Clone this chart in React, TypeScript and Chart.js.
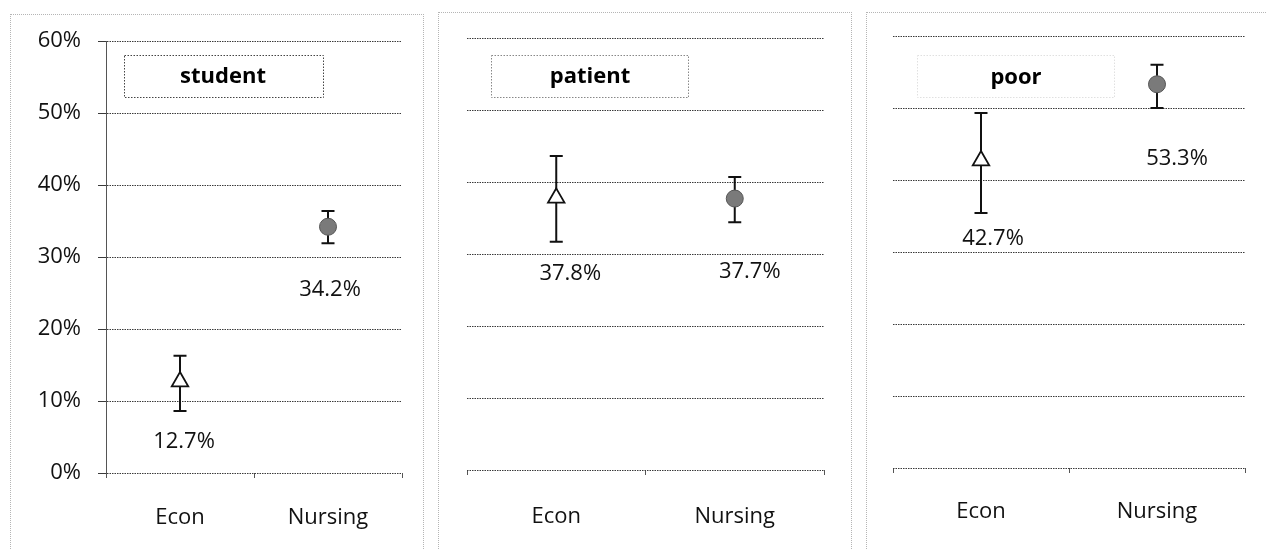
import React, { useEffect, useRef } from 'react';
import { Chart, registerables } from 'chart.js';

Chart.register(...registerables);

// ---------- data ----------
const categories = ['Econ', 'Nursing'];
const panelTitles = ['student', 'patient', 'poor'];
const yTickMax = 0.6;
const yTickStep = 0.1;

const studentValues = [0.127, 0.342];
const studentLower = [0.086, 0.319];
const studentUpper = [0.163, 0.364];

const patientValues = [0.378, 0.377];
const patientLower = [0.317, 0.344];
const patientUpper = [0.436, 0.407];

const poorValues = [0.427, 0.533];
const poorLower = [0.354, 0.5];
const poorUpper = [0.493, 0.56];

// ---------- layout / style ----------
const FONT = "'Open Sans', sans-serif";
const H = 549;

type PanelCfg = {
  title: string;
  values: number[];
  lower: number[];
  upper: number[];
  left: number;
  width: number;
  axisW: number;
  padRight: number;
  padTop: number;
  xAxisH: number;
  xPad: number;
  showY: boolean;
  titleBox: { x1: number; y1: number; x2: number; y2: number; color: string };
  titleCenter: { x: number; y: number };
  labelOffsets: number[][];
};

const panels: PanelCfg[] = [
  {
    title: panelTitles[0], values: studentValues, lower: studentLower, upper: studentUpper,
    left: 0, width: 424, axisW: 106, padRight: 22, padTop: 41, xAxisH: 76, xPad: 27, showY: true,
    titleBox: { x1: 124, y1: 55, x2: 323, y2: 97, color: '#444' },
    titleCenter: { x: 223, y: 77 },
    labelOffsets: [[4, 60], [2, 63]],
  },
  {
    title: panelTitles[1], values: patientValues, lower: patientLower, upper: patientUpper,
    left: 430, width: 428, axisW: 37, padRight: 34, padTop: 38, xAxisH: 79, xPad: 29, showY: false,
    titleBox: { x1: 61, y1: 55, x2: 258, y2: 97, color: '#888' },
    titleCenter: { x: 160, y: 77 },
    labelOffsets: [[14, 76], [15, 73]],
  },
  {
    title: panelTitles[2], values: poorValues, lower: poorLower, upper: poorUpper,
    left: 862, width: 405, axisW: 31, padRight: 22, padTop: 36, xAxisH: 81, xPad: 26, showY: false,
    titleBox: { x1: 55, y1: 55, x2: 252, y2: 97, color: '#e0e0e0' },
    titleCenter: { x: 154, y: 78 },
    labelOffsets: [[12, 78], [20, 74]],
  },
];

const errorBarPlugin = {
  id: 'errorBars',
  beforeDatasetsDraw(chart: any, _args: any, opts: any) {
    const { ctx } = chart;
    const y = chart.scales.y;
    const meta = chart.getDatasetMeta(0);
    ctx.save();
    ctx.strokeStyle = '#111';
    ctx.lineWidth = 2;
    meta.data.forEach((pt: any, i: number) => {
      const x = pt.x;
      const yl = y.getPixelForValue(opts.lower[i]);
      const yu = y.getPixelForValue(opts.upper[i]);
      ctx.beginPath();
      ctx.moveTo(x, yl); ctx.lineTo(x, yu);
      ctx.moveTo(x - 6.5, yl); ctx.lineTo(x + 6.5, yl);
      ctx.moveTo(x - 6.5, yu); ctx.lineTo(x + 6.5, yu);
      ctx.stroke();
    });
    ctx.restore();
  },
};

const dataLabelPlugin = {
  id: 'valueLabels',
  afterDatasetsDraw(chart: any, _args: any, opts: any) {
    const { ctx } = chart;
    const meta = chart.getDatasetMeta(0);
    const data = chart.data.datasets[0].data;
    ctx.save();
    ctx.font = `22px ${FONT}`;
    ctx.fillStyle = '#111';
    ctx.textAlign = 'center';
    ctx.textBaseline = 'middle';
    meta.data.forEach((pt: any, i: number) => {
      const off = opts.offsets[i];
      ctx.fillText((data[i] * 100).toFixed(1) + '%', pt.x + off[0], pt.y + off[1]);
    });
    ctx.restore();
  },
};

const titleBoxPlugin = {
  id: 'titleBox',
  afterDraw(chart: any, _args: any, opts: any) {
    const { ctx } = chart;
    const b = opts.box;
    ctx.save();
    ctx.strokeStyle = b.color;
    ctx.lineWidth = 1;
    ctx.setLineDash([1.5, 1.5]);
    ctx.strokeRect(b.x1 + 0.5, b.y1 + 0.5, b.x2 - b.x1, b.y2 - b.y1);
    ctx.setLineDash([]);
    ctx.font = `bold 22px ${FONT}`;
    ctx.fillStyle = '#000';
    ctx.textAlign = 'center';
    ctx.textBaseline = 'middle';
    ctx.fillText(opts.text, opts.center.x, opts.center.y);
    ctx.restore();
  },
};

function Panel({ cfg }: { cfg: PanelCfg }) {
  const ref = useRef<HTMLCanvasElement>(null);
  useEffect(() => {
    if (!ref.current) return;
    const chart = new Chart(ref.current, {
      type: 'line',
      data: {
        labels: categories,
        datasets: [
          {
            data: cfg.values,
            showLine: false,
            pointStyle: ['triangle', 'circle'] as any,
            pointRadius: [9.5, 8.5],
            pointBackgroundColor: ['#ffffff', '#7a7a7a'],
            pointBorderColor: ['#111111', '#555555'],
            pointBorderWidth: [1.8, 1],
          } as any,
        ],
      },
      options: {
        animation: false,
        responsive: false,
        events: [],
        layout: { padding: { top: cfg.padTop, right: cfg.padRight, left: 0, bottom: 0 } },
        plugins: {
          legend: { display: false },
          tooltip: { enabled: false },
          errorBars: { lower: cfg.lower, upper: cfg.upper },
          valueLabels: { offsets: cfg.labelOffsets },
          titleBox: { box: cfg.titleBox, text: cfg.title, center: cfg.titleCenter },
        } as any,
        scales: {
          x: {
            type: 'category',
            offset: true,
            afterFit: (s: any) => { s.height = cfg.xAxisH; },
            grid: { offset: true, drawOnChartArea: false, drawTicks: true, tickLength: 5, color: '#555' },
            border: { display: false },
            ticks: { font: { family: FONT, size: 22 }, color: '#111', padding: cfg.xPad, maxRotation: 0 },
          },
          y: {
            min: 0,
            max: yTickMax,
            afterFit: (s: any) => { s.width = cfg.axisW; },
            grid: {
              color: '#3a3a3a',
              lineWidth: 1,
              drawTicks: cfg.showY,
              tickLength: 8,
            },
            border: { display: cfg.showY, color: '#555', width: 1, dash: [1.5, 1] },
            ticks: {
              display: cfg.showY,
              stepSize: yTickStep,
              padding: 17,
              font: { family: FONT, size: 22 },
              color: '#111',
              callback: (v: any) => Math.round(Number(v) * 100) + '%',
            },
          },
        },
      } as any,
      plugins: [errorBarPlugin, dataLabelPlugin, titleBoxPlugin],
    });
    return () => chart.destroy();
  }, [cfg]);
  return (
    <canvas
      ref={ref}
      width={cfg.width}
      height={H}
      style={{ position: 'absolute', left: cfg.left, top: 0, width: cfg.width, height: H }}
    />
  );
}

const frames = [
  { left: 10, top: 14, width: 414 },
  { left: 438, top: 12, width: 414 },
  { left: 866, top: 12, width: 410 },
];

export default function App() {
  return (
    <div
      style={{
        position: 'absolute', left: 0, top: 0, width: 1267, height: H,
        background: '#fff', overflow: 'hidden',
      }}
    >
      {frames.map((f, i) => (
        <div
          key={i}
          style={{
            position: 'absolute', left: f.left, top: f.top, width: f.width, height: H + 10,
            border: '1px dotted #b5b5b5', boxSizing: 'border-box',
          }}
        />
      ))}
      {panels.map((p, i) => (
        <Panel key={i} cfg={p} />
      ))}
    </div>
  );
}
